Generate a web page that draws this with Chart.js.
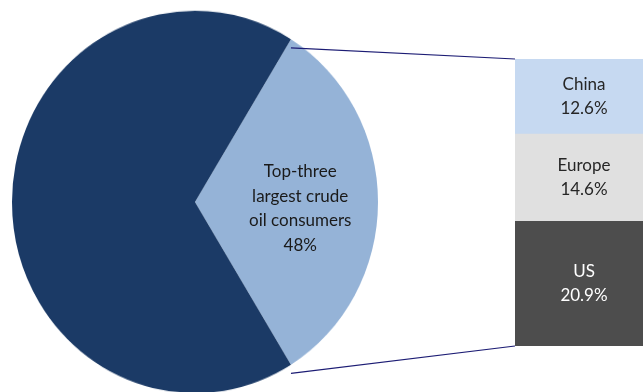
<!DOCTYPE html>
<html>
<head>
<meta charset="utf-8">
<script src="https://cdn.jsdelivr.net/npm/chart.js@4.4.1/dist/chart.umd.min.js"></script>
<style>
  html, body { margin: 0; padding: 0; background: #fff; overflow: hidden; }
  #stage { position: relative; width: 643px; height: 392px; overflow: hidden; }
  #pieBox { position: absolute; left: 12px; top: 19px; width: 366px; height: 366px; transform: scaleY(1.045); transform-origin: 50% 50%; }
  #barBox { position: absolute; left: 515px; top: 59px; width: 138px; height: 287px; }
  #overlay { position: absolute; left: 0; top: 0; pointer-events: none; }
</style>
</head>
<body>
<div id="stage">
  <div id="pieBox"><canvas id="pieChart"></canvas></div>
  <div id="barBox"><canvas id="barChart"></canvas></div>
  <canvas id="overlay" width="643" height="392"></canvas>
</div>
<script>
// pie: the grouped slice first, then everything else
const pieLabels = ['Top-three largest crude oil consumers', 'Other'];
const pieValues = [48, 100];
const pieColors = ['#95b3d7', '#1b3a66'];
const pieText = ['Top-three', 'largest crude', 'oil consumers', '48%'];

// breakdown of the grouped slice, bottom to top
const barLabels = ['US', 'Europe', 'China'];
const barValues = [20.9, 14.6, 12.6];
const barColors = ['#4d4d4d', '#e0e0e0', '#c6d9f1'];
const barTextColors = ['#ffffff', '#262626', '#262626'];

const FONT = '17px Lato, "Open Sans", sans-serif';
const LINE_H = 24.5;
const PIE_SY = 1.045;

const pieTotal = pieValues.reduce((a, b) => a + b, 0);
const barTotal = barValues.reduce((a, b) => a + b, 0);

// center the grouped slice on the right-hand side
const pieRotation = 90 - 180 * pieValues[0] / pieTotal;

const pieChart = new Chart(document.getElementById('pieChart'), {
  type: 'pie',
  data: {
    labels: pieLabels,
    datasets: [{ data: pieValues, backgroundColor: pieColors, borderWidth: 0 }]
  },
  options: {
    responsive: true,
    maintainAspectRatio: false,
    animation: false,
    rotation: pieRotation,
    layout: { padding: 0 },
    plugins: { legend: { display: false }, tooltip: { enabled: false } }
  }
});

const barChart = new Chart(document.getElementById('barChart'), {
  type: 'bar',
  data: {
    labels: ['Top-three'],
    datasets: barLabels.map((label, i) => ({
      label,
      data: [barValues[i]],
      backgroundColor: barColors[i],
      borderWidth: 0,
      barPercentage: 1,
      categoryPercentage: 1
    }))
  },
  options: {
    responsive: true,
    maintainAspectRatio: false,
    animation: false,
    layout: { padding: 0 },
    scales: {
      x: { stacked: true, display: false },
      y: { stacked: true, display: false, min: 0, max: barTotal }
    },
    plugins: { legend: { display: false }, tooltip: { enabled: false } }
  }
});

function drawLines(ctx, x, y, lines, color) {
  ctx.fillStyle = color;
  const top = y - (lines.length - 1) * LINE_H / 2;
  lines.forEach((t, i) => ctx.fillText(t, x, top + i * LINE_H));
}

function drawOverlay() {
  const ctx = document.getElementById('overlay').getContext('2d');
  ctx.clearRect(0, 0, 643, 392);
  ctx.font = FONT;
  ctx.textAlign = 'center';
  ctx.textBaseline = 'middle';

  // pie canvas coords -> page coords (box is stretched vertically about its center)
  const pieBox = { left: 12, top: 19, w: 366, h: 366 };
  const toPage = (px, py) => [
    pieBox.left + px,
    pieBox.top + pieBox.h / 2 + (py - pieBox.h / 2) * PIE_SY
  ];

  const arc = pieChart.getDatasetMeta(0).data[0];
  const r = arc.outerRadius;
  const pTop = toPage(arc.x + r * Math.cos(arc.startAngle), arc.y + r * Math.sin(arc.startAngle));
  const pBot = toPage(arc.x + r * Math.cos(arc.endAngle), arc.y + r * Math.sin(arc.endAngle));

  const barMeta = barChart.getDatasetMeta(barValues.length - 1).data[0];
  const barBottomEl = barChart.getDatasetMeta(0).data[0];
  const barLeft = 515 + barMeta.x - barMeta.width / 2;
  const barTop = 59 + barMeta.y;
  const barBottom = 59 + barBottomEl.base;

  // connector lines
  ctx.strokeStyle = '#1c1c74';
  ctx.lineWidth = 1.2;
  ctx.beginPath();
  ctx.moveTo(pTop[0], pTop[1]);
  ctx.lineTo(barLeft, barTop);
  ctx.moveTo(pBot[0], pBot[1]);
  ctx.lineTo(barLeft, barBottom);
  ctx.stroke();

  // pie label
  const mid = (arc.startAngle + arc.endAngle) / 2;
  const lp = toPage(arc.x + r * 0.575 * Math.cos(mid), arc.y + r * 0.575 * Math.sin(mid) - 2);
  drawLines(ctx, lp[0], lp[1], pieText, '#1a1a1a');

  // segment labels
  barLabels.forEach((label, i) => {
    const el = barChart.getDatasetMeta(i).data[0];
    const cx = 515 + el.x;
    const cy = 59 + (el.y + el.base) / 2;
    drawLines(ctx, cx, cy, [label, barValues[i].toFixed(1) + '%'], barTextColors[i]);
  });
}

drawOverlay();
</script>
</body>
</html>
